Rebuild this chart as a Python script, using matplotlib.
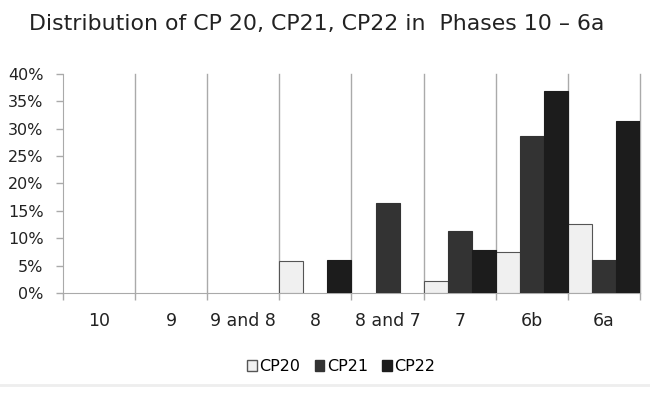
import numpy as np
import matplotlib.pyplot as plt
from matplotlib.lines import Line2D

# phases and values (percent)
phases = ['10', '9', '9 and 8', '8', '8 and 7', '7', '6b', '6a']
cp20 = [0, 0, 0, 5.9, 0, 2.2, 7.4, 12.6]
cp21 = [0, 0, 0, 0, 16.5, 11.4, 28.6, 6.1]
cp22 = [0, 0, 0, 6.0, 0, 7.9, 36.9, 31.4]
series = ['CP20', 'CP21', 'CP22']
colors = ['#f0f0f0', '#333333', '#1c1c1c']
edges = ['#555555', '#333333', '#1c1c1c']

plt.rcParams['font.family'] = ['DejaVu Sans']

fig = plt.figure(figsize=(6.5, 3.93), dpi=100)
ax = fig.add_axes([0.0969, 0.2545, 0.8877, 0.5572])

x = np.arange(len(phases))
w = 1 / 3
for k, vals in enumerate([cp20, cp21, cp22]):
    vals = np.array(vals)
    mask = vals > 0
    ax.bar(x[mask] - 0.5 + w * k + w / 2, vals[mask], width=w,
           color=colors[k], edgecolor=edges[k], linewidth=0.8,
           label=series[k], zorder=3)

ax.set_xlim(-0.5, len(phases) - 0.5)
ax.set_ylim(0, 40)

# category boundaries as vertical lines
bounds = np.arange(len(phases) + 1) - 0.5
for b in bounds[1:]:
    ax.axvline(b, color='#aaaaaa', linewidth=1, zorder=0, clip_on=False)

ax.set_xticks(x)
ax.set_xticklabels(phases, fontsize=12.5, color='#222222')
ax.set_xticks(bounds, minor=True)
ax.tick_params(axis='x', which='major', length=0, pad=14)
ax.tick_params(axis='x', which='minor', length=5, color='#aaaaaa', width=1)

ax.set_yticks(np.arange(0, 41, 5))
ax.set_yticklabels([f'{v}%' for v in range(0, 41, 5)], fontsize=11.5, color='#222222')
ax.tick_params(axis='y', length=5, color='#aaaaaa', width=1, pad=9)

for s in ['top', 'right']:
    ax.spines[s].set_visible(False)
ax.spines['left'].set_color('#aaaaaa')
ax.spines['bottom'].set_color('#aaaaaa')

fig.text(0.045, 0.94, 'Distribution of CP 20, CP21, CP22 in  Phases 10 \u2013 6a',
         fontsize=15.8, color='#222222', va='center', ha='left')

handles = [plt.Rectangle((0, 0), 1, 1, facecolor=colors[k], edgecolor=edges[k])
           for k in range(3)]
fig.legend(handles, series, loc='center', bbox_to_anchor=(0.525, 0.068),
           ncol=3, frameon=False, fontsize=11.5, handlelength=0.6, handleheight=0.7,
           handletextpad=0.15, columnspacing=0.9)

fig.add_artist(Line2D([0, 1], [0.02, 0.02], color='#eeeeee', linewidth=2,
                      transform=fig.transFigure))

fig.savefig('out.png', dpi=100)
